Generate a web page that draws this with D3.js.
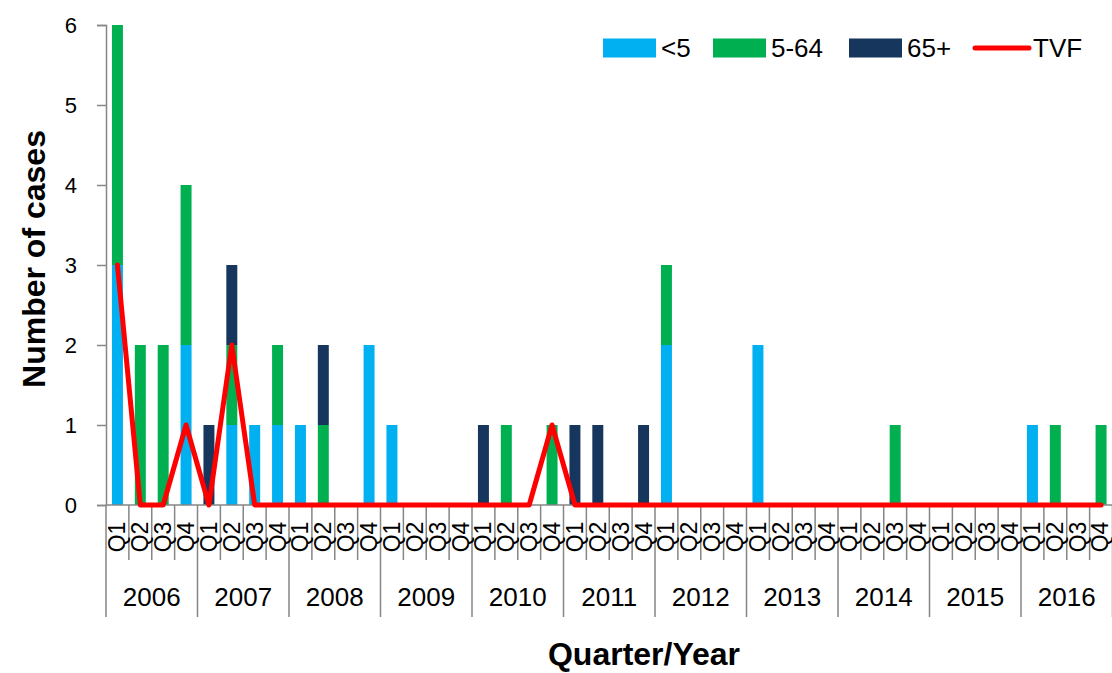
<!DOCTYPE html>
<html>
<head>
    <meta charset="utf-8">
    <title>Number of cases by quarter</title>
    <script src="https://d3js.org/d3.v7.min.js"></script>
    <style>
        html, body { margin: 0; padding: 0; background: white; }
        text { font-family: "Liberation Sans", Arial, sans-serif; fill: black; }
    </style>
</head>
<body>
<div id="chart"></div>
<script>
    // Data, 2006 Q1 .. 2016 Q4
    const years = ["2006", "2007", "2008", "2009", "2010", "2011", "2012", "2013", "2014", "2015", "2016"];
    const quarters = ["Q1", "Q2", "Q3", "Q4"];
    const under5 = [3, 0, 0, 2, 0, 1, 1, 1, 1, 0, 0, 2, 1, 0, 0, 0, 0, 0, 0, 0, 0, 0, 0, 0, 2, 0, 0, 0, 2, 0, 0, 0, 0, 0, 0, 0, 0, 0, 0, 0, 1, 0, 0, 0];
    const age5to64 = [3, 2, 2, 2, 0, 1, 0, 1, 0, 1, 0, 0, 0, 0, 0, 0, 0, 1, 0, 1, 0, 0, 0, 0, 1, 0, 0, 0, 0, 0, 0, 0, 0, 0, 1, 0, 0, 0, 0, 0, 0, 1, 0, 1];
    const age65plus = [0, 0, 0, 0, 1, 1, 0, 0, 0, 1, 0, 0, 0, 0, 0, 0, 1, 0, 0, 0, 1, 1, 0, 1, 0, 0, 0, 0, 0, 0, 0, 0, 0, 0, 0, 0, 0, 0, 0, 0, 0, 0, 0, 0];
    const tvf = [3, 0, 0, 1, 0, 2, 0, 0, 0, 0, 0, 0, 0, 0, 0, 0, 0, 0, 0, 1, 0, 0, 0, 0, 0, 0, 0, 0, 0, 0, 0, 0, 0, 0, 0, 0, 0, 0, 0, 0, 0, 0, 0, 0];
    const yTicks = [0, 1, 2, 3, 4, 5, 6];

    const seriesKeys = ["lt5", "mid", "old"];
    const seriesNames = { lt5: "<5", mid: "5-64", old: "65+" };
    const colors = { lt5: "#00B0F0", mid: "#00B050", old: "#17365D", tvf: "#FF0000" };

    // build rows
    const rows = [];
    years.forEach((y, yi) => {
        quarters.forEach((q, qi) => {
            const i = yi * 4 + qi;
            rows.push({ key: y + q, year: y, quarter: q, lt5: under5[i], mid: age5to64[i], old: age65plus[i], tvf: tvf[i] });
        });
    });

    const W = 1112, H = 673;
    const plot = { left: 106, right: 1112.5, top: 25, bottom: 505 };

    const svg = d3.select("#chart").append("svg")
        .attr("width", W)
        .attr("height", H);

    const x = d3.scaleBand()
        .domain(rows.map(d => d.key))
        .range([plot.left, plot.right])
        .paddingInner(0.52)
        .paddingOuter(0.26);

    const y = d3.scaleLinear()
        .domain([0, 6])
        .range([plot.bottom, plot.top]);

    const step = (plot.right - plot.left) / rows.length;
    const cx = d => x(d.key) + x.bandwidth() / 2;

    // stacked bars
    const stacked = d3.stack().keys(seriesKeys)(rows);
    svg.append("g").selectAll("g")
        .data(stacked)
        .join("g")
        .attr("fill", s => colors[s.key])
        .selectAll("rect")
        .data(s => s.filter(d => d[1] > d[0]))
        .join("rect")
        .attr("x", d => x(d.data.key))
        .attr("width", x.bandwidth())
        .attr("y", d => y(d[1]))
        .attr("height", d => y(d[0]) - y(d[1]));

    // y axis
    const axisColor = "#868686";
    const yAxis = svg.append("g")
        .attr("transform", `translate(${plot.left},0)`)
        .call(d3.axisLeft(y).tickValues(yTicks).tickSize(9).tickPadding(20).tickFormat(d3.format("d")));
    yAxis.select(".domain").attr("stroke", axisColor).attr("stroke-width", 1.5);
    yAxis.selectAll(".tick line").attr("stroke", axisColor).attr("stroke-width", 1.5);
    yAxis.selectAll(".tick text")
        .style("font-family", "'Liberation Sans', Arial, sans-serif")
        .style("font-size", "22px")
        .attr("fill", "black");

    // x axis line
    svg.append("line")
        .attr("x1", plot.left).attr("x2", plot.right)
        .attr("y1", plot.bottom).attr("y2", plot.bottom)
        .attr("stroke", axisColor).attr("stroke-width", 1.5);

    // vertical separators: quarters short, years long
    const bounds = d3.range(rows.length + 1);
    svg.append("g").selectAll("line")
        .data(bounds)
        .join("line")
        .attr("x1", i => plot.left + i * step)
        .attr("x2", i => plot.left + i * step)
        .attr("y1", plot.bottom)
        .attr("y2", i => i % 4 === 0 ? 617 : 560)
        .attr("stroke", axisColor)
        .attr("stroke-width", 1.5);

    // quarter labels
    svg.append("g").selectAll("text")
        .data(rows)
        .join("text")
        .attr("transform", d => `translate(${Math.min(cx(d), 1100)},537) rotate(-90)`)
        .attr("text-anchor", "middle")
        .attr("dominant-baseline", "central")
        .style("font-size", "23px")
        .text(d => d.quarter);

    // year labels
    svg.append("g").selectAll("text")
        .data(years)
        .join("text")
        .attr("x", (d, i) => plot.left + (i * 4 + 2) * step)
        .attr("y", 597)
        .attr("text-anchor", "middle")
        .attr("dominant-baseline", "central")
        .style("font-size", "26px")
        .text(d => d);

    // TVF line
    const line = d3.line()
        .x(d => cx(d))
        .y(d => y(d.tvf));
    svg.append("path")
        .datum(rows)
        .attr("fill", "none")
        .attr("stroke", colors.tvf)
        .attr("stroke-width", 5)
        .attr("stroke-linejoin", "round")
        .attr("stroke-linecap", "round")
        .attr("d", line);

    // axis titles
    svg.append("text")
        .attr("transform", `translate(34,259) rotate(-90)`)
        .attr("text-anchor", "middle")
        .attr("dominant-baseline", "central")
        .style("font-size", "32px")
        .style("font-weight", "bold")
        .text("Number of cases");

    svg.append("text")
        .attr("x", 644)
        .attr("y", 654)
        .attr("text-anchor", "middle")
        .attr("dominant-baseline", "central")
        .style("font-size", "32px")
        .style("font-weight", "bold")
        .text("Quarter/Year");

    // legend
    const legendItems = [
        { key: "lt5", x: 603 },
        { key: "mid", x: 713 },
        { key: "old", x: 849 },
        { key: "tvf", x: 975 }
    ];
    const legend = svg.append("g");
    legendItems.forEach(item => {
        const g = legend.append("g").attr("transform", `translate(${item.x},48)`);
        if (item.key === "tvf") {
            g.append("line")
                .attr("x1", 0).attr("x2", 54)
                .attr("stroke", colors.tvf)
                .attr("stroke-width", 5)
                .attr("stroke-linecap", "round");
        } else {
            g.append("rect")
                .attr("x", 0).attr("y", -9.5)
                .attr("width", 53).attr("height", 19)
                .attr("fill", colors[item.key]);
        }
        g.append("text")
            .attr("x", 58)
            .attr("dominant-baseline", "central")
            .style("font-size", "26px")
            .text(item.key === "tvf" ? "TVF" : seriesNames[item.key]);
    });
</script>
</body>
</html>
